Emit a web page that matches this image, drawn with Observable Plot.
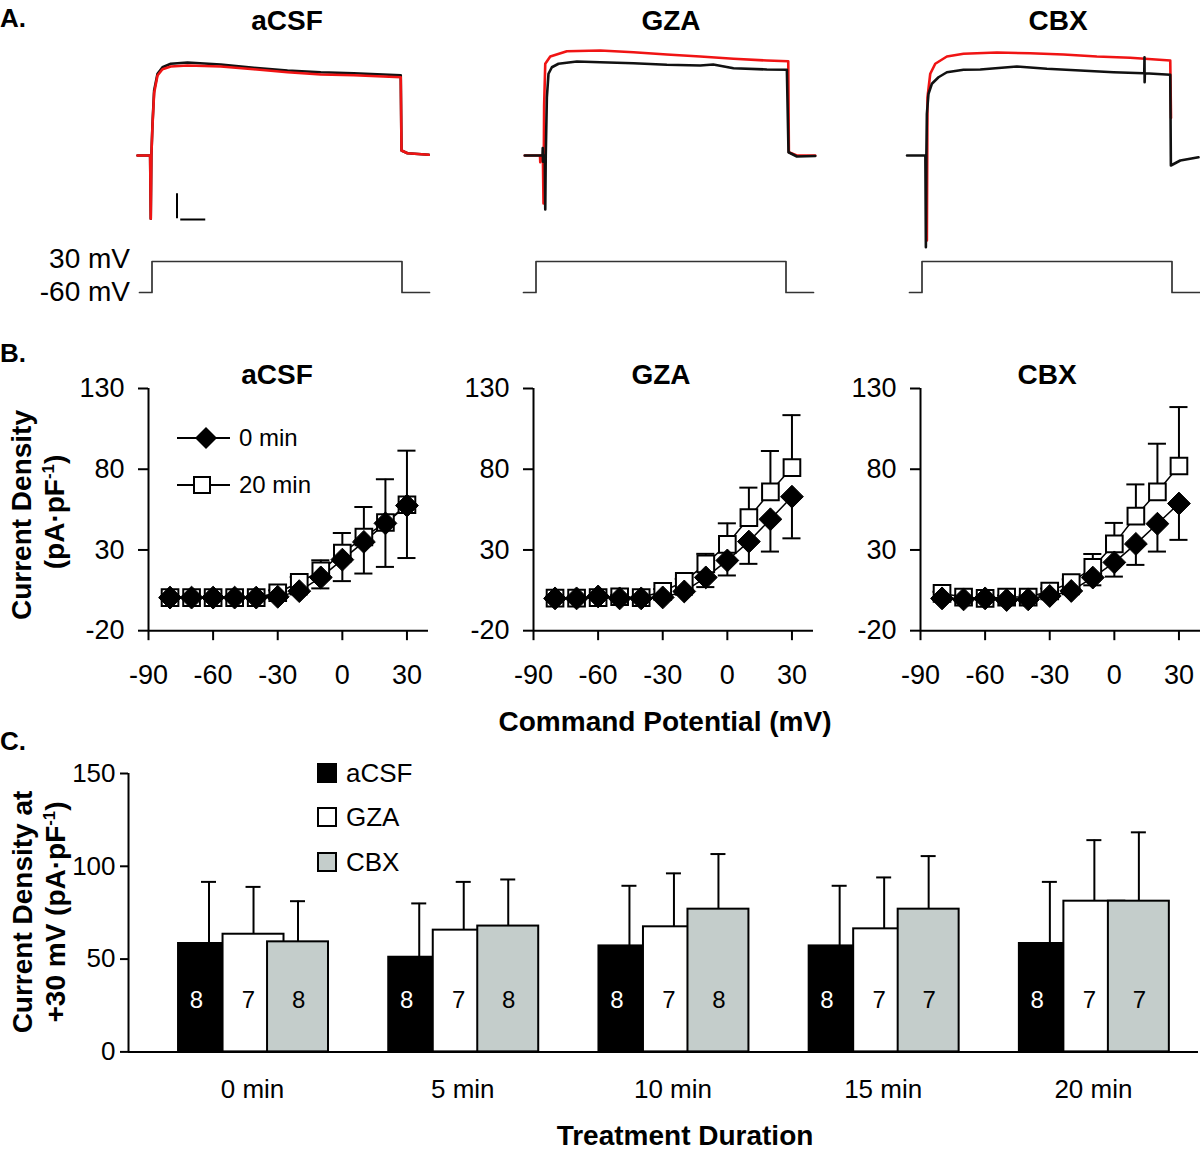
<!DOCTYPE html>
<html><head><meta charset="utf-8">
<script src="https://cdn.jsdelivr.net/npm/d3@7"></script>
<script src="https://cdn.jsdelivr.net/npm/@observablehq/plot@0.6"></script>
<style>
body{margin:0;background:#fff;}
#fig{position:relative;width:1200px;height:1157px;overflow:hidden;font-family:"Liberation Sans",Arial,Helvetica,sans-serif;color:#000;background:#fff;}
.lbl{position:absolute;white-space:nowrap;line-height:1;}
.lbl sup{font-size:0.6em;vertical-align:0.6em;line-height:0;}
.sq{position:absolute;box-sizing:border-box;width:20px;height:20px;border:2px solid #000;}
</style></head><body><div id="fig"></div>
<script>
// ---------------- DATA ----------------
// Panel A: current traces (time in ms, current in nA), black = 0 min, red = 20 min
const aCSF_black_t = [-11.6,-1.5,-1,-0.5,0.4,1.7,4.4,8.4,15,28.4,55,81.4,108.4,135,161.4,199,199.6,204.4,221.4];
const aCSF_black_i = [0,0,-2.53,0,1.28,2.6,3.27,3.53,3.67,3.72,3.64,3.51,3.4,3.33,3.29,3.21,0.2,0.09,0.03];
const aCSF_red_t   = [-11.6,-1.5,-1,-0.5,0.4,1.7,4.4,8.4,15,28.4,55,81.4,108.4,135,161.4,199,199.6,204.4,221.4];
const aCSF_red_i   = [0,0,-2.53,0,1.2,2.5,3.2,3.45,3.56,3.6,3.56,3.45,3.33,3.24,3.21,3.13,0.2,0.09,0.03];
const GZA_black_t = [-9,5.2,5.4,5.6,5.8,7,7.4,7.8,8.7,10,12.7,18,32.7,51.4,78,104.7,131.4,141.8,158,184.7,200.7,202,208.7,223.4];
const GZA_black_i = [0,0,0.3,-0.25,0,0,-2.16,0,2.33,3.27,3.53,3.67,3.76,3.73,3.69,3.63,3.6,3.64,3.49,3.44,3.43,0.13,-0.04,-0.02];
const GZA_red_t   = [-9,3.2,3.4,3.6,5.5,6,6.5,7.4,11.4,24.7,51.4,78,104.7,131.4,158,184.7,201.8,202.3,208.7,223.4];
const GZA_red_i   = [0,0,-0.27,0,0,-1.92,2.0,3.67,3.96,4.17,4.2,4.13,4.04,3.96,3.87,3.8,3.77,0.13,0,0];
const CBX_black_t = [-12,2.7,3.1,3.5,3.9,5.2,7.9,13.2,19.9,33.2,46.6,75.9,99.9,126.6,153.2,177.2,177.8,178,178.1,178.3,198.6,199.1,206.6,221.2];
const CBX_black_i = [0,0,-3.67,0,1.67,2.47,2.87,3.13,3.33,3.43,3.44,3.56,3.47,3.4,3.33,3.29,3.29,3.93,2.93,3.29,3.23,-0.4,-0.2,-0.07];
const CBX_red_t   = [3.3,3.9,4.2,4.4,6.6,10.6,19.9,33.2,59.9,86.6,113.2,139.9,166.6,198.6,199.2];
const CBX_red_i   = [0,-3.4,0,2.33,3.27,3.67,3.96,4.07,4.12,4.09,4.04,3.96,3.91,3.8,1.5];
// voltage protocol
const stepT = [-10, 0, 200, 222];
const stepV = [-60, 30, -60, -60];
// scale bar: 1 nA / 20 ms
const scaleBar = {t: 20, i: -2.53, nA: 1, ms: 20};

// Panel B: I-V relations
const voltages = [-80,-70,-60,-50,-40,-30,-20,-10,0,10,20,30];
const ivTicksX = [-90,-60,-30,0,30];
const ivTicksY = [-20,30,80,130];
const aCSF_0min  = [0.5,0.5,0.5,0.5,0.5,1,4.5,13,24,35,46.5,57.5];
const aCSF_20min = [0.5,0.5,0.5,0.5,0.5,3.5,10,17,28,38,47,58];
const aCSF_err20 = [1,1,1,1,1,1.5,3.2,6.6,12.5,18.6,26.8,33.5];
const aCSF_err0  = [1,1,1,1,1,1,2,6.8,13.3,19.6,27,32.5];
const GZA_0min  = [0,0,1.2,0,0,0.6,4.3,13,23.5,35.2,49,63];
const GZA_20min = [0.2,0.2,0.5,1,0.5,4.3,10.5,21.4,33.5,50,66,81];
const GZA_err20 = [1,1,1,1,1,1.5,1.6,6.2,13,18.6,25.3,32.5];
const GZA_err0  = [1,1,1,1,1,1,2,6,9.3,13.8,20,25.8];
const CBX_0min  = [0,-0.6,0,-1,-0.6,1.5,4.6,12.9,22.3,33.75,46.25,58.75];
const CBX_20min = [3.1,0.8,0,0.8,0.8,4.6,9.8,19.2,33.75,51,66,82];
const CBX_err20 = [1,1,1,1,1,1.5,2,8.3,13,19.6,29.8,36.5];
const CBX_err0  = [1,1,1,1,1,1,2,4.8,8.8,13,17.25,22.5];

// Panel C: current density at +30 mV
const durations = ["0 min","5 min","10 min","15 min","20 min"];
const seriesNames = ["aCSF","GZA","CBX"];
const seriesColors = ["#000000","#ffffff","#c4cdcb"];
const aCSF_mean = [58.4,51,57.1,57.1,58.4];
const aCSF_sem  = [33.2,29,32.4,32.4,33.2];
const GZA_mean  = [63.4,65.6,67.4,66.3,81.2];
const GZA_sem   = [25.5,26,28.8,27.7,32.9];
const CBX_mean  = [59.3,67.8,76.9,76.9,81.2];
const CBX_sem   = [21.9,25.1,29.7,28.6,37.1];
const aCSF_n = [8,8,8,8,8];
const GZA_n  = [7,7,7,7,7];
const CBX_n  = [8,8,8,7,7];
const barTicksY = [0,50,100,150];

// ---------------- HELPERS ----------------
const fig = document.getElementById("fig");
const FONT = '"Liberation Sans", Arial, Helvetica, sans-serif';
const plain = d => String(d);   // hyphen-minus like the original
function place(svg, left, top){
  svg.style.position="absolute"; svg.style.left=left+"px"; svg.style.top=top+"px";
  svg.style.overflow="visible"; svg.style.background="transparent"; svg.style.maxWidth="none";
  fig.appendChild(svg);
}
function label(html, x, y, {size=26, bold=false, align="middle", rotate=0}={}){
  const d=document.createElement("div"); d.className="lbl"; d.innerHTML=html;
  d.style.fontSize=size+"px"; d.style.fontWeight=bold?"bold":"normal";
  d.style.left=x+"px"; d.style.top=y+"px";
  const tx = align==="middle"?"-50%":align==="end"?"-100%":"0";
  d.style.transform=`translate(${tx},-50%)`+(rotate?` rotate(${rotate}deg)`:"");
  fig.appendChild(d);
}
const rows = (ts, is) => ts.map((t,k)=>({t, i: is[k]}));

// ---------------- PANEL A ----------------
const traceCols = [
  {x0:138.7, title:"aCSF", tx:287, black:rows(aCSF_black_t,aCSF_black_i), red:rows(aCSF_red_t,aCSF_red_i), redOnTop:true, bar:true},
  {x0:523.3, title:"GZA", tx:671, black:rows(GZA_black_t,GZA_black_i), red:rows(GZA_red_t,GZA_red_i), redOnTop:false, bar:false},
  {x0:909.3, title:"CBX", tx:1058, black:rows(CBX_black_t,CBX_black_i), red:rows(CBX_red_t,CBX_red_i), redOnTop:false, bar:false}
];
const stepRows = stepT.map((t,k)=>({t, v: stepV[k]}));
for (const c of traceCols){
  const lb = Plot.line(c.black, {x:"t", y:"i", stroke:"#111", strokeWidth:2.6});
  const lr = Plot.line(c.red, {x:"t", y:"i", stroke:"#f01414", strokeWidth:2.6});
  const marks = c.redOnTop ? [lb, lr] : [lr, lb];
  if (c.bar){
    marks.push(Plot.ruleX([scaleBar], {x:"t", y1:"i", y2: d=>d.i+d.nA, stroke:"#000", strokeWidth:2}));
    marks.push(Plot.ruleY([scaleBar], {y: d=>d.i-0.03, x1: d=>d.t+3, x2: d=>d.t+3+d.ms, stroke:"#000", strokeWidth:2}));
  }
  const p = Plot.plot({
    width:300, height:200, marginLeft:5, marginRight:5, marginTop:0, marginBottom:0,
    x:{domain:[-10,222], axis:null}, y:{domain:[-3.4,4.6], axis:null},
    marks
  });
  place(p, c.x0-5, 40);
  const v = Plot.plot({
    width:300, height:60, marginLeft:5, marginRight:5, marginTop:0, marginBottom:0,
    x:{domain:[-10,222], axis:null}, y:{domain:[-97.7,76.4], axis:null},
    marks:[Plot.line(stepRows, {x:"t", y:"v", curve:"step-after", stroke:"#333", strokeWidth:1.7})]
  });
  place(v, c.x0-5, 245);
  label(c.title, c.tx, 21, {size:28, bold:true});
}
label("30 mV", 130, 259, {size:28, align:"end"});
label("-60 mV", 130, 292, {size:28, align:"end"});
label("A.", 0, 18, {size:26, bold:true, align:"start"});

// ---------------- PANEL B ----------------
const ivCols = [
  {X:148, title:"aCSF", tx:277, m0:aCSF_0min, m20:aCSF_20min, e0:aCSF_err0, e20:aCSF_err20},
  {X:533.3, title:"GZA", tx:661, m0:GZA_0min, m20:GZA_20min, e0:GZA_err0, e20:GZA_err20},
  {X:920, title:"CBX", tx:1047, m0:CBX_0min, m20:CBX_20min, e0:CBX_err0, e20:CBX_err20}
];
const xDomB = [-90, 40], yDomB = [-20, 130];
const capB = 4.2;
for (const c of ivCols){
  const data = voltages.map((v,k)=>({v, m0:c.m0[k], m20:c.m20[k], e0:c.e0[k], e20:c.e20[k]}));
  const p = Plot.plot({
    width: 75+280+10, height: 322.2, marginLeft:75, marginRight:10, marginTop:20, marginBottom:60,
    x:{domain:xDomB}, y:{domain:yDomB},
    style:{fontFamily:FONT, fontSize:"27px", color:"#000"},
    marks:[
      Plot.line(data, {x:"v", y:"m0", stroke:"#000", strokeWidth:1.5}),
      Plot.line(data, {x:"v", y:"m20", stroke:"#000", strokeWidth:1.5}),
      Plot.ruleX(data, {x:"v", y1:"m20", y2:d=>d.m20+d.e20, stroke:"#000", strokeWidth:2}),
      Plot.ruleY(data, {y:d=>d.m20+d.e20, x1:d=>d.v-capB, x2:d=>d.v+capB, stroke:"#000", strokeWidth:2}),
      Plot.ruleX(data, {x:"v", y1:"m0", y2:d=>d.m0-d.e0, stroke:"#000", strokeWidth:2}),
      Plot.ruleY(data, {y:d=>d.m0-d.e0, x1:d=>d.v-capB, x2:d=>d.v+capB, stroke:"#000", strokeWidth:2}),
      Plot.dot(data, {x:"v", y:"m20", symbol:"square", r:9.4, fill:"#fff", stroke:"#000", strokeWidth:2}),
      Plot.dot(data, {x:"v", y:"m0", symbol:"diamond2", r:10.3, fill:"#000", stroke:"#000", strokeWidth:1}),
      Plot.ruleY([yDomB[0]], {stroke:"#000", strokeWidth:2}),
      Plot.ruleX([xDomB[0]], {stroke:"#000", strokeWidth:2}),
      Plot.axisX(ivTicksX, {tickSize:10, tickPadding:24, strokeWidth:2, label:null, fontSize:27, tickFormat:plain}),
      Plot.axisY(ivTicksY, {tickSize:10, tickPadding:14, strokeWidth:2, label:null, fontSize:27, tickFormat:plain})
    ]
  });
  place(p, c.X-75, 367.5);
  label(c.title, c.tx, 375, {size:28, bold:true});
}
// legend for panel B
{
  const s = d3.create("svg").attr("width",80).attr("height",90);
  s.append("line").attr("x1",7).attr("x2",60).attr("y1",18).attr("y2",18).attr("stroke","#000").attr("stroke-width",1.8);
  const h = 11;
  s.append("path").attr("d",`M36,${18-h}L${36+h},18L36,${18+h}L${36-h},18Z`).attr("fill","#000");
  s.append("line").attr("x1",7).attr("x2",60).attr("y1",65).attr("y2",65).attr("stroke","#000").attr("stroke-width",1.8);
  s.append("rect").attr("x",32-8).attr("y",65-8).attr("width",16).attr("height",16).attr("fill","#fff").attr("stroke","#000").attr("stroke-width",2);
  place(s.node(), 170, 420);
}
label("0 min", 239, 438, {size:24, align:"start"});
label("20 min", 239, 485, {size:24, align:"start"});
label("Current Density", 22, 515, {size:28, bold:true, rotate:-90});
label("(pA·pF<sup>-1</sup>)", 55, 512, {size:28, bold:true, rotate:-90});
label("Command Potential (mV)", 665, 722, {size:28, bold:true});
label("B.", 0, 353, {size:26, bold:true, align:"start"});

// ---------------- PANEL C ----------------
{
  const means = [aCSF_mean, GZA_mean, CBX_mean];
  const sems = [aCSF_sem, GZA_sem, CBX_sem];
  const ns = [aCSF_n, GZA_n, CBX_n];
  const barStart = -0.352, barW = 0.29, barStep = 0.2117, capC = 0.0357;
  const labelOff = [-0.267, -0.019, 0.219];
  const table = [];
  durations.forEach((dur, g) => seriesNames.forEach((s, j) => {
    const x1 = g + barStart + j*barStep;
    table.push({g, j, series:s, dur, value:means[j][g], sem:sems[j][g], n:ns[j][g],
      x1, x2:x1+barW, xc:x1+barW/2, xl:g+labelOff[j]});
  }));
  const xDomC = [-0.59, 4.5], yDomC = [0, 150];
  const p = Plot.plot({
    width:1200, height:358.4, marginLeft:128, marginRight:2, marginTop:20, marginBottom:60,
    x:{domain:xDomC}, y:{domain:yDomC},
    color:{type:"ordinal", domain:seriesNames, range:seriesColors},
    style:{fontFamily:FONT, fontSize:"26px", color:"#000"},
    marks:[
      Plot.rect(table, {x1:"x1", x2:"x2", y1:0, y2:"value", fill:"series", stroke:"#000", strokeWidth:2}),
      Plot.ruleX(table, {x:"xc", y1:"value", y2:d=>d.value+d.sem, stroke:"#000", strokeWidth:2}),
      Plot.ruleY(table, {y:d=>d.value+d.sem, x1:d=>d.xc-capC, x2:d=>d.xc+capC, stroke:"#000", strokeWidth:2}),
      Plot.text(table.filter(d=>d.j===0), {x:"xl", text:"n", frameAnchor:"bottom", dy:-44, fill:"#fff", fontSize:24}),
      Plot.text(table.filter(d=>d.j!==0), {x:"xl", text:"n", frameAnchor:"bottom", dy:-44, fill:"#000", fontSize:24}),
      Plot.ruleY([yDomC[0]], {stroke:"#000", strokeWidth:2}),
      Plot.ruleX([xDomC[0]], {stroke:"#000", strokeWidth:2}),
      Plot.axisY(barTicksY, {tickSize:8, tickPadding:5, strokeWidth:2, label:null, fontSize:26, tickFormat:plain}),
      Plot.axisX(durations.map((d,i)=>i), {tickFormat:i=>durations[i], tickSize:0, tickPadding:28, label:null, fontSize:26})
    ]
  });
  place(p, 0, 753.3);
  // legend
  seriesNames.forEach((s, j) => {
    const cy = [773, 817, 862][j];
    const sq = document.createElement("div"); sq.className="sq";
    sq.style.left="317px"; sq.style.top=(cy-10)+"px"; sq.style.background=seriesColors[j];
    fig.appendChild(sq);
    label(s, 346, cy, {size:26, align:"start"});
  });
}
label("Current Density at", 23, 912, {size:28, bold:true, rotate:-90});
label("+30 mV (pA·pF<sup>-1</sup>)", 56, 912, {size:28, bold:true, rotate:-90});
label("Treatment Duration", 685, 1136, {size:28, bold:true});
label("C.", 0, 741, {size:26, bold:true, align:"start"});
</script></body></html>
